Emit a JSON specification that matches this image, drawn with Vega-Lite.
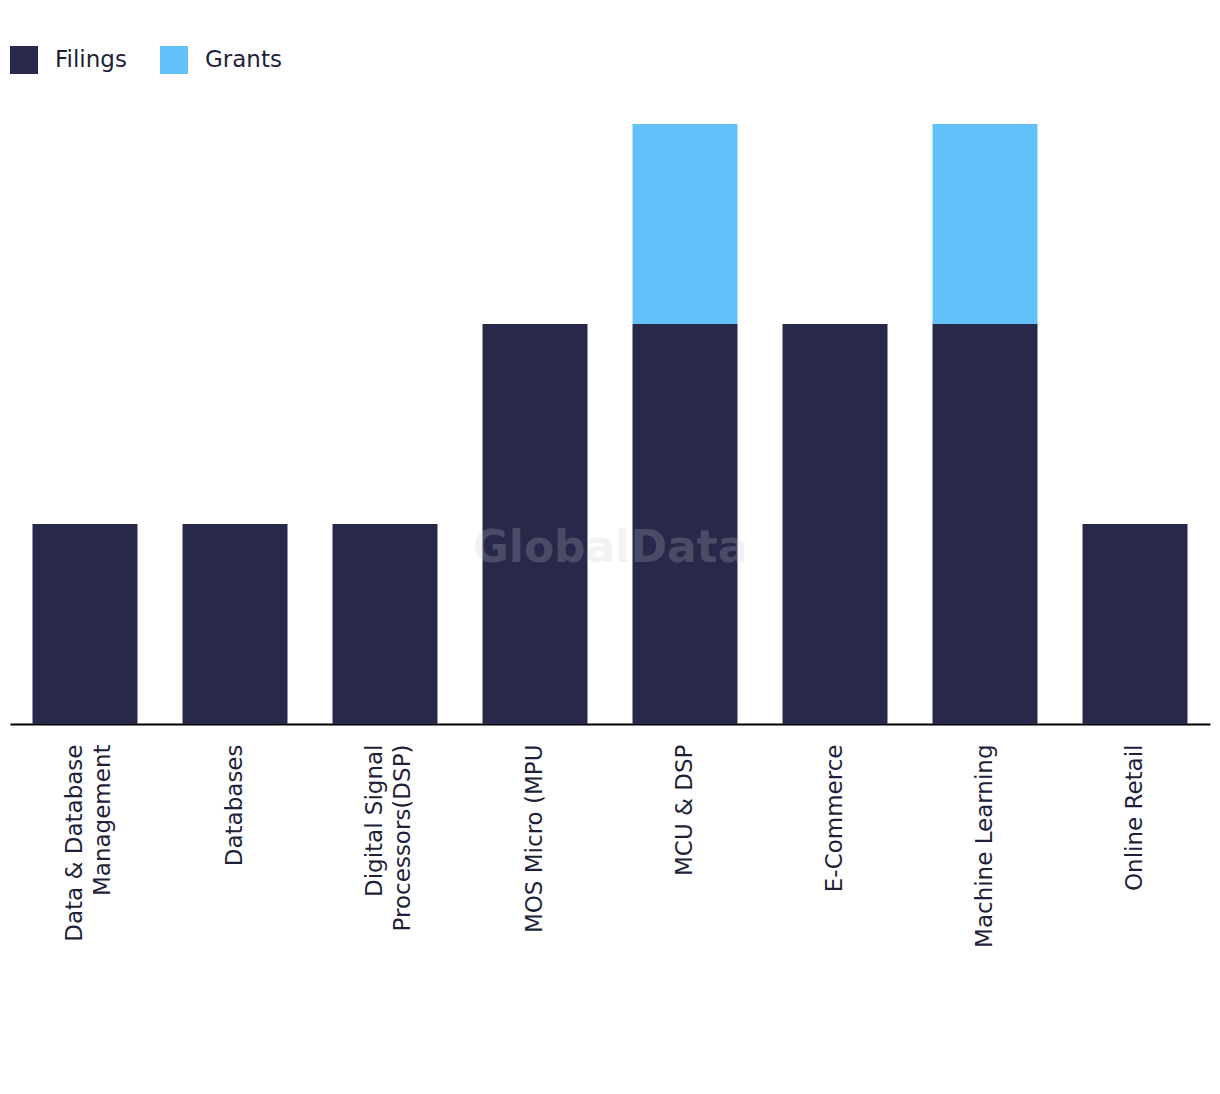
{
  "$schema": "https://vega.github.io/schema/vega-lite/v6.json",
  "width": 1200,
  "height": 600,
  "padding": {"left": 10, "top": 46, "right": 10, "bottom": 5},
  "background": "white",
  "config": {
    "view": {"stroke": null},
    "font": "DejaVu Sans"
  },
  "layer": [
    {
      "data": {
        "values": [
          {"category": "Data & Database Management", "type": "Filings", "count": 1},
          {"category": "Databases", "type": "Filings", "count": 1},
          {"category": "Digital Signal Processors(DSP)", "type": "Filings", "count": 1},
          {"category": "MOS Micro (MPU", "type": "Filings", "count": 2},
          {"category": "MCU & DSP", "type": "Filings", "count": 2},
          {"category": "MCU & DSP", "type": "Grants", "count": 1},
          {"category": "E-Commerce", "type": "Filings", "count": 2},
          {"category": "Machine Learning", "type": "Filings", "count": 2},
          {"category": "Machine Learning", "type": "Grants", "count": 1},
          {"category": "Online Retail", "type": "Filings", "count": 1}
        ]
      },
      "mark": {"type": "bar"},
      "encoding": {
        "x": {
          "field": "category",
          "type": "nominal",
          "sort": null,
          "scale": {"paddingInner": 0.3, "paddingOuter": 0.15},
          "axis": {
            "title": null,
            "labelAngle": -90,
            "labelAlign": "right",
            "labelBaseline": "middle",
            "labelFontSize": 23,
            "labelFont": "DejaVu Sans",
            "labelColor": "#1f1f3a",
            "labelPadding": 20,
            "labelLineHeight": 28,
            "labelLimit": 400,
            "labelOffset": {"condition": {"test": "datum.value == 'Data & Database Management' || datum.value == 'Digital Signal Processors(DSP)'", "value": -10}, "value": 0},
            "ticks": false,
            "domainColor": "#000000",
            "domainWidth": 2,
            "labelExpr": "datum.value == 'Data & Database Management' ? ['Data & Database', 'Management'] : datum.value == 'Digital Signal Processors(DSP)' ? ['Digital Signal', 'Processors(DSP)'] : datum.value"
          }
        },
        "y": {
          "field": "count",
          "type": "quantitative",
          "stack": "zero",
          "scale": {"domain": [0, 3], "nice": false},
          "axis": null
        },
        "color": {
          "field": "type",
          "type": "nominal",
          "scale": {"domain": ["Filings", "Grants"], "range": ["#27284a", "#62c1f9"]},
          "legend": {
            "title": null,
            "orient": "none",
            "legendX": 0,
            "legendY": -78,
            "direction": "horizontal",
            "symbolType": "square",
            "symbolSize": 784,
            "symbolStrokeWidth": 0,
            "labelFontSize": 23,
            "labelFont": "DejaVu Sans",
            "labelColor": "#1f1f3a",
            "labelOffset": 17,
            "columnPadding": 33
          }
        },
        "order": {"field": "type", "sort": "ascending"}
      }
    },
    {
      "data": {"values": [{"mark": "GlobalData", "level": 0.875}]},
      "mark": {
        "type": "text",
        "fontSize": 44,
        "fontWeight": "bold",
        "font": "DejaVu Sans",
        "color": "#c8c8c8",
        "opacity": 0.22,
        "align": "center",
        "baseline": "middle"
      },
      "encoding": {
        "text": {"field": "mark"},
        "y": {"field": "level", "type": "quantitative"}
      }
    }
  ]
}
